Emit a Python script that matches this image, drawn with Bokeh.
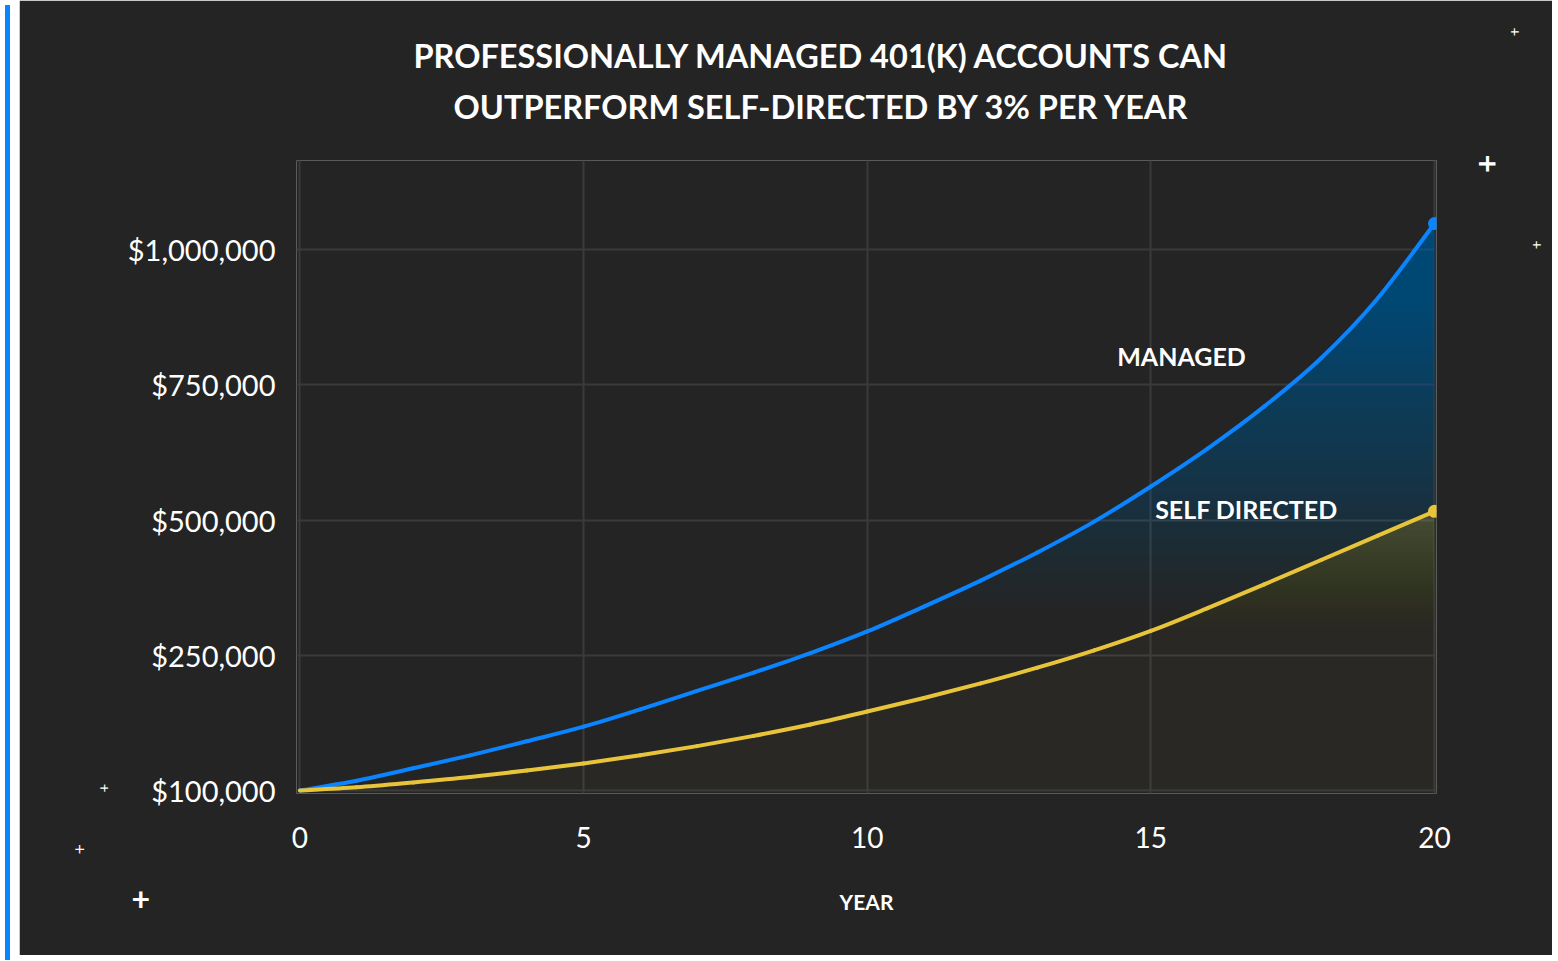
import numpy as np
from bokeh.plotting import figure
from bokeh.models import Label, FixedTicker, NumeralTickFormatter, Range1d, Div, Title
from bokeh.layouts import row
from bokeh.embed import file_html
from bokeh.resources import INLINE

# ---------------- data ----------------
years = list(range(21))
managed = [0, 18000, 41000, 65000, 91000, 118000, 150000, 184000, 218000, 254000,
           294000, 340000, 388000, 440000, 497000, 562000, 632000, 710000, 799000,
           910000, 1048000]
self_directed = [0, 6000, 15000, 25000, 37000, 50000, 65000, 82000, 101000, 122000,
                 146000, 171000, 198000, 227000, 259000, 295000, 337000, 381000,
                 426000, 471000, 516000]
x_ticks = [0, 5, 10, 15, 20]
y_ticks = [0, 250000, 500000, 750000, 1000000]
y_label_overrides = {0: "$100,000"}
title_lines = ["PROFESSIONALLY MANAGED 401(K) ACCOUNTS CAN",
               "OUTPERFORM SELF-DIRECTED BY 3% PER YEAR"]
series_names = ["MANAGED", "SELF DIRECTED"]
x_label = "YEAR"

# ---------------- style ----------------
BG = "#242424"
BLUE = "#0a84ff"
YELLOW = "#e8c43a"
GRID = "#3a3a3a"
WHITE = "#ffffff"
FONT = "Lato"

W, H = 1533, 955
PAGE_X, PAGE_Y = 20, 0          # measured figure origin on the page
ML = 297 - PAGE_X
MT = 160 - PAGE_Y
MR = W - (1437 - PAGE_X)
MB = H - (793 - PAGE_Y)
X0, X1 = -0.06, 20.035
Y0, Y1 = -5545, 1164510

p = figure(width=W, height=H, output_backend="svg", toolbar_location=None,
           x_range=Range1d(X0, X1), y_range=Range1d(Y0, Y1),
           min_border_left=ML, min_border_right=MR,
           min_border_top=MT, min_border_bottom=MB,
           background_fill_color=BG, border_fill_color=BG,
           outline_line_color=None)

FW = W - ML - MR
FH = H - MT - MB


def dx(px):
    return X0 + (px - PAGE_X - ML) / FW * (X1 - X0)


def dy(py):
    return Y1 - (py - PAGE_Y - MT) / FH * (Y1 - Y0)


# ---------------- title (two lines) ----------------
p.title.text = title_lines[0]
p.title.align = "left"
p.title.offset = 117
p.title.standoff = -50
p.title.text_font = FONT
p.title.text_font_style = "bold"
p.title.text_font_size = "32.5px"
p.title.text_color = WHITE
p.add_layout(Title(text=title_lines[1], align="left", offset=157, standoff=70,
                   text_font=FONT, text_font_style="bold", text_font_size="32.5px",
                   text_color=WHITE), "above")

# ---------------- axes ----------------
for ax in (p.xaxis[0], p.yaxis[0]):
    ax.axis_line_color = None
    ax.major_tick_line_color = None
    ax.minor_tick_line_color = None
    ax.major_label_text_color = WHITE
    ax.major_label_text_font = FONT
p.xaxis.major_label_text_font_size = "28px"
p.yaxis.major_label_text_font_size = "29px"

p.xaxis.ticker = FixedTicker(ticks=x_ticks)
p.yaxis.ticker = FixedTicker(ticks=y_ticks)
p.yaxis.formatter = NumeralTickFormatter(format="$0,0")
p.yaxis.major_label_overrides = y_label_overrides
p.xaxis.major_label_standoff = 27
p.yaxis.major_label_standoff = 15
p.xaxis.axis_label = x_label
p.xaxis.axis_label_text_font = FONT
p.xaxis.axis_label_text_font_style = "bold"
p.xaxis.axis_label_text_font_size = "21px"
p.xaxis.axis_label_text_color = WHITE
p.xaxis.axis_label_standoff = 38

p.xgrid.ticker = FixedTicker(ticks=x_ticks)
p.ygrid.ticker = FixedTicker(ticks=y_ticks)
for g in (p.xgrid[0], p.ygrid[0]):
    g.grid_line_color = GRID
    g.grid_line_width = 2


# ---------------- smooth curve helpers (Catmull-Rom -> cubic Bezier) ----------------
def bezier_segments(xv, yv):
    xv = np.asarray(xv, float)
    yv = np.asarray(yv, float)
    xp = np.concatenate([[xv[0]], xv, [xv[-1]]])
    yp = np.concatenate([[yv[0]], yv, [yv[-1]]])
    x0, y0 = xv[:-1], yv[:-1]
    x1, y1 = xv[1:], yv[1:]
    cx0 = x0 + (xp[2:-1] - xp[:-3]) / 6
    cy0 = y0 + (yp[2:-1] - yp[:-3]) / 6
    cx1 = x1 - (xp[3:] - xp[1:-2]) / 6
    cy1 = y1 - (yp[3:] - yp[1:-2]) / 6
    return dict(x0=x0, y0=y0, x1=x1, y1=y1, cx0=cx0, cy0=cy0, cx1=cx1, cy1=cy1)


def bezier_dense(seg, k=40):
    t = np.linspace(0, 1, k, endpoint=False)[:, None]
    a = (1 - t) ** 3
    b = 3 * (1 - t) ** 2 * t
    c = 3 * (1 - t) * t ** 2
    d = t ** 3
    X = (a * seg["x0"] + b * seg["cx0"] + c * seg["cx1"] + d * seg["x1"]).T.ravel()
    Y = (a * seg["y0"] + b * seg["cy0"] + c * seg["cy1"] + d * seg["y1"]).T.ravel()
    X = np.append(X, seg["x1"][-1])
    Y = np.append(Y, seg["y1"][-1])
    return X, Y


seg_m = bezier_segments(years, managed)
seg_s = bezier_segments(years, self_directed)
xs_m, blue_d = bezier_dense(seg_m)
xs_s, yel_d = bezier_dense(seg_s)


# ---------------- gradient areas ----------------
def gradient_area(xs, upper, levels, targets, color):
    prev = 0.0
    for lev, A in zip(levels, targets):
        a = 1 - (1 - A) / (1 - prev)
        prev = A
        if a <= 0.0005:
            continue
        y1 = np.minimum(lev, upper)
        p.varea(x=xs, y1=y1, y2=upper, fill_color=color, fill_alpha=float(a))


vmax_b = max(managed)
n = 36
lv_b = np.linspace(0.32 * vmax_b, 0.86 * vmax_b, n)
tg_b = 0.44 * np.arange(1, n + 1) / n
gradient_area(xs_m, blue_d, lv_b, tg_b, BLUE)

vmax_y = max(self_directed)
m = 24
lv_y = np.concatenate([[0.0], np.linspace(0.58 * vmax_y, 0.98 * vmax_y, m)])
tg_y = np.concatenate([[0.03], 0.03 + 0.21 * np.arange(1, m + 1) / m])
gradient_area(xs_s, yel_d, lv_y, tg_y, YELLOW)

# ---------------- lines ----------------
p.bezier(**seg_m, line_color=BLUE, line_width=4, line_cap="round")
p.bezier(**seg_s, line_color=YELLOW, line_width=4, line_cap="round")
p.scatter([years[-1]], [managed[-1]], size=13, fill_color=BLUE, line_color=None)
p.scatter([years[-1]], [self_directed[-1]], size=13, fill_color=YELLOW, line_color=None)

# ---------------- series labels ----------------
p.add_layout(Label(x=dx(1182), y=dy(355), text=series_names[0], text_align="center",
                   text_baseline="middle", text_color=WHITE, text_font=FONT,
                   text_font_style="bold", text_font_size="25px"))
p.add_layout(Label(x=dx(1247), y=dy(508), text=series_names[1], text_align="center",
                   text_baseline="middle", text_color=WHITE, text_font=FONT,
                   text_font_style="bold", text_font_size="25px"))


# ---------------- decorative plus signs (side-panel titles) ----------------
def plus(place, size, style, offset, standoff, valign="bottom"):
    p.add_layout(Title(text="+", align="left", offset=offset, standoff=standoff,
                       vertical_align=valign,
                       text_font=FONT, text_font_style=style, text_font_size=size,
                       text_color=WHITE), place)


plus("right", "32px", "bold", -6, 78)
plus("right", "15px", "normal", 80, -18)
plus("right", "15px", "normal", -133, -62)
plus("left", "15px", "normal", 1, 31)
plus("left", "18px", "normal", -61, -11)
plus("below", "32px", "bold", -165, -60, "top")

bar = Div(width=5, height=H, styles={"background-color": BLUE})
layout = row(bar, p, spacing=4)

open("out.html", "w").write(file_html(layout, INLINE))
